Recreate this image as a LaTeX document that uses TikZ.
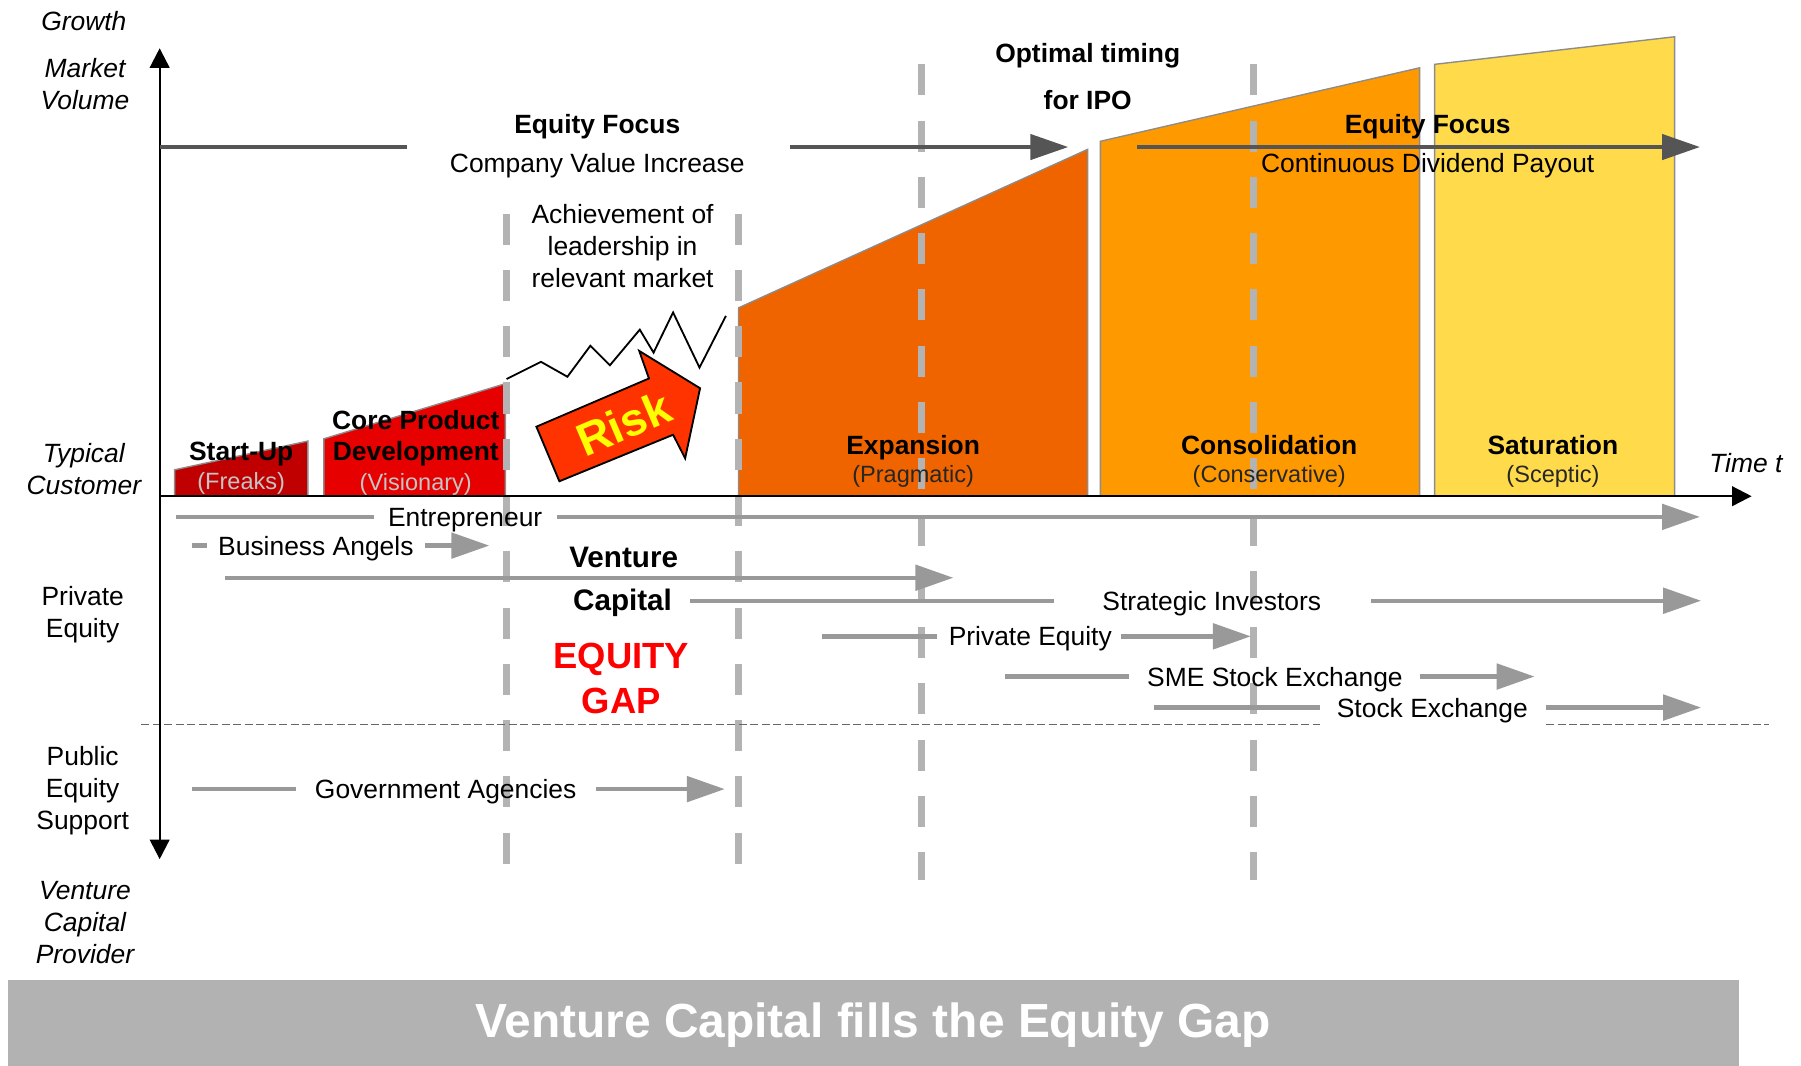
\documentclass[tikz,border=0pt]{standalone}
\usepackage{fontspec}
\setmainfont{Liberation Sans}
\usetikzlibrary{arrows.meta}

\definecolor{cStart}{HTML}{C00000}
\definecolor{cCore}{HTML}{E60000}
\definecolor{cExp}{HTML}{F06400}
\definecolor{cCons}{HTML}{FF9900}
\definecolor{cSat}{HTML}{FFDA4A}
\definecolor{cRisk}{HTML}{FF3300}
\definecolor{cArrow}{HTML}{999999}
\definecolor{cDark}{HTML}{555555}
\definecolor{cVdash}{HTML}{B3B3B3}
\definecolor{cBar}{HTML}{B2B2B2}
\definecolor{cSub}{HTML}{C4C4C4}
\definecolor{cEdge}{HTML}{8C8C8C}
\definecolor{cGap}{HTML}{FF0000}
\definecolor{cRiskText}{HTML}{FFFF00}

\begin{document}
\begin{tikzpicture}[x=0.5pt,y=-0.5pt,
  one/.style={inner sep=0pt, text height=8.3pt, text depth=0pt},
  txt/.style={one, font=\fontsize{11.5pt}{14pt}\selectfont},
  btxt/.style={one, font=\fontsize{11.5pt}{14pt}\selectfont\bfseries},
  bigbtxt/.style={inner sep=0pt, text height=9.3pt, text depth=0pt, font=\fontsize{12.9pt}{15pt}\selectfont\bfseries},
  itxt/.style={one, font=\fontsize{11.5pt}{14pt}\selectfont\itshape},
  mtxt/.style={inner sep=0pt, align=center, font=\fontsize{11.5pt}{14pt}\selectfont},
  mitxt/.style={inner sep=0pt, align=center, font=\fontsize{11.5pt}{14pt}\selectfont\itshape},
  subtxt/.style={inner sep=0pt, text height=7.4pt, text depth=0pt, font=\fontsize{10.25pt}{12pt}\selectfont},
  phase/.style={draw=cEdge, line width=0.6pt},
  garrow/.style={draw=cArrow, line width=1.9pt, -{Triangle[length=16.5pt,width=11pt]}},
  gline/.style={draw=cArrow, line width=1.9pt},
  darrow/.style={draw=cDark, line width=1.6pt, -{Triangle[length=16.5pt,width=11pt]}},
  dline/.style={draw=cDark, line width=1.6pt},
  vdash/.style={draw=cVdash, line width=3pt, dash pattern=on 13.5pt off 11pt},
  divider/.style={draw=black!60, line width=0.5pt, dash pattern=on 3.5pt off 1.5pt},
  axis/.style={draw=black, line width=1pt},
  axtip/.style={-{Triangle[length=8.5pt,width=8.5pt]}},
]
\useasboundingbox (0,0) rectangle (1568,928);

% ---------- phase shapes ----------
\filldraw[phase, fill=cStart] (152,432) -- (152,409) -- (268,384) -- (268,432) -- cycle;
\filldraw[phase, fill=cCore]  (282,432) -- (282,382) -- (440,334) -- (440,432) -- cycle;
\filldraw[phase, fill=cExp]   (643,432) -- (643,268) -- (947,130) -- (947,432) -- cycle;
\filldraw[phase, fill=cCons]  (958,432) -- (958,123) -- (1236,59) -- (1236,432) -- cycle;
\filldraw[phase, fill=cSat]   (1249,432) -- (1249,56) -- (1458,32) -- (1458,432) -- cycle;

% ---------- vertical dashed stage lines ----------
\draw[vdash] (441,186) -- (441,752);
\draw[vdash] (643,186) -- (643,752);
\draw[vdash] (802,56) -- (802,766);
\draw[vdash] (1091,56) -- (1091,766);

% ---------- dashed divider ----------
\coordinate (divA) at (123,631);
\coordinate (divB) at (1149,631);
\coordinate (divC) at (1346,631);
\coordinate (divD) at (1540,631);
\draw[divider] (divA) -- (divB);
\draw[divider] (divC) -- (divD);

% ---------- axes ----------
\coordinate (yTop) at (139,42);
\coordinate (yBot) at (139,748);
\coordinate (orig) at (139,432);
\coordinate (xEnd) at (1525,432);
\draw[axis, {Triangle[length=8.5pt,width=8.5pt]}-{Triangle[length=8.5pt,width=8.5pt]}] (yTop) -- (yBot);
\draw[axis, axtip] (orig) -- (xEnd);

% ---------- zigzag and risk arrow ----------
\draw[black, line width=0.8pt, line join=miter]
  (441,330) -- (471,315) -- (494,328) -- (514,301) -- (531,318) -- (557,287)
  -- (569,307) -- (586,272) -- (609,320) -- (632,275);
\filldraw[draw=black, line width=0.8pt, fill=cRisk, line join=miter]
  (467,371.5) -- (565,329.5) -- (556.5,305.5) -- (609.5,338) -- (596.5,399)
  -- (586,378.5) -- (487,419) -- cycle;
\node[inner sep=0pt, rotate=23, text=cRiskText, font=\fontsize{20pt}{24pt}\selectfont\bfseries] (risk) at (543,369) {Risk};

% ---------- top equity focus arrows ----------
\coordinate (efA) at (139,128);
\coordinate (efB) at (354,128);
\coordinate (efC) at (688,128);
\coordinate (efD) at (930,128);
\draw[dline] (efA) -- (efB);
\draw[darrow] (efC) -- (efD);
\coordinate (cdA) at (990,128);
\coordinate (cdB) at (1480,128);
\draw[darrow] (cdA) -- (cdB);

\node[btxt] (ef1) at (520,108) {Equity Focus};
\node[txt]  (cvi) at (520,142) {Company Value Increase};
\node[btxt] (ef2) at (1243,108) {Equity Focus};
\node[txt]  (cdp) at (1243,142) {Continuous Dividend Payout};
\node[btxt] (opt) at (947,46) {Optimal timing};
\node[btxt] (ipo) at (947,87) {for IPO};
\node[mtxt] (ach) at (542,214.5) {Achievement of\\leadership in\\relevant market};

% ---------- axis labels ----------
\node[itxt]  (growth) at (73,18) {Growth};
\node[mitxt] (mv) at (74,73.5) {Market\\Volume};
\node[mitxt] (tc) at (73,408.5) {Typical\\Customer};
\node[mtxt]  (pe) at (72,535) {Private\\Equity};
\node[mtxt]  (pes) at (72,688.5) {Public\\Equity\\Support};
\node[mitxt] (vcp) at (74,803) {Venture\\Capital\\Provider};
\node[itxt]  (time) at (1520,403) {Time \textit{t}};

% ---------- phase labels ----------
\node[btxt] (su) at (210,393) {Start-Up};
\node[subtxt, text=cSub] (freaks) at (210,419) {(Freaks)};
\node[btxt] (cp1) at (362,366) {Core Product};
\node[btxt] (cp2) at (362,393) {Development};
\node[subtxt, text=cSub] (vis) at (362,420) {(Visionary)};
\node[btxt] (exp) at (795,387) {Expansion};
\node[subtxt, text=black!85] (prag) at (795,413) {(Pragmatic)};
\node[btxt] (cons) at (1105,387) {Consolidation};
\node[subtxt, text=black!85] (conserv) at (1105,413) {(Conservative)};
\node[btxt] (sat) at (1352,387) {Saturation};
\node[subtxt, text=black!85] (scep) at (1352,413) {(Sceptic)};

% ---------- financing rows ----------
% Entrepreneur
\coordinate (enA) at (153,450); \coordinate (enB) at (326,450);
\coordinate (enC) at (485,450); \coordinate (enD) at (1480,450);
\node[txt] (ent) at (405,450) {Entrepreneur};
\draw[gline] (enA) -- (enB);
\draw[garrow] (enC) -- (enD);
% Business Angels
\coordinate (baA) at (167,475); \coordinate (baB) at (180,475);
\coordinate (baC) at (370,475); \coordinate (baD) at (426,475);
\node[txt] (ba) at (275,475) {Business Angels};
\draw[gline] (baA) -- (baB);
\draw[garrow] (baC) -- (baD);
% Venture Capital
\coordinate (vcA) at (196,503); \coordinate (vcB) at (830,503);
\draw[garrow] (vcA) -- (vcB);
\node[bigbtxt] (vc1) at (543,485) {Venture};
\node[bigbtxt] (vc2) at (542,522) {Capital};
% Strategic Investors
\coordinate (siA) at (601,523); \coordinate (siB) at (918,523);
\coordinate (siC) at (1194,523); \coordinate (siD) at (1481,523);
\node[txt] (si) at (1055,523) {Strategic Investors};
\draw[gline] (siA) -- (siB);
\draw[garrow] (siC) -- (siD);
% Private Equity
\coordinate (prA) at (716,554); \coordinate (prB) at (816,554);
\coordinate (prC) at (976,554); \coordinate (prD) at (1089,554);
\node[txt] (pr) at (897,554) {Private Equity};
\draw[gline] (prA) -- (prB);
\draw[garrow] (prC) -- (prD);
% SME Stock Exchange
\coordinate (smA) at (875,589); \coordinate (smB) at (983,589);
\coordinate (smC) at (1236,589); \coordinate (smD) at (1336,589);
\node[txt] (sme) at (1110,589) {SME Stock Exchange};
\draw[gline] (smA) -- (smB);
\draw[garrow] (smC) -- (smD);
% Stock Exchange
\coordinate (stA) at (1005,616); \coordinate (stB) at (1149,616);
\coordinate (stC) at (1346,616); \coordinate (stD) at (1481,616);
\node[txt] (se) at (1247,616) {Stock Exchange};
\draw[gline] (stA) -- (stB);
\draw[garrow] (stC) -- (stD);
% Government Agencies
\coordinate (gaA) at (167,687); \coordinate (gaB) at (258,687);
\coordinate (gaC) at (519,687); \coordinate (gaD) at (631,687);
\node[txt] (ga) at (388,687) {Government Agencies};
\draw[gline] (gaA) -- (gaB);
\draw[garrow] (gaC) -- (gaD);

% ---------- equity gap ----------
\node[inner sep=0pt, align=center, text=cGap, font=\fontsize{15.85pt}{19.5pt}\selectfont\bfseries] (gap) at (541,591) {EQUITY\\GAP};

% ---------- title bar ----------
\fill[cBar] (7,853) rectangle (1514,928);
\node[inner sep=0pt, text=white, text height=15pt, text depth=0pt, font=\fontsize{20.85pt}{25pt}\selectfont\bfseries] (title) at (760,888) {Venture Capital fills the Equity Gap};
\end{tikzpicture}
\end{document}
